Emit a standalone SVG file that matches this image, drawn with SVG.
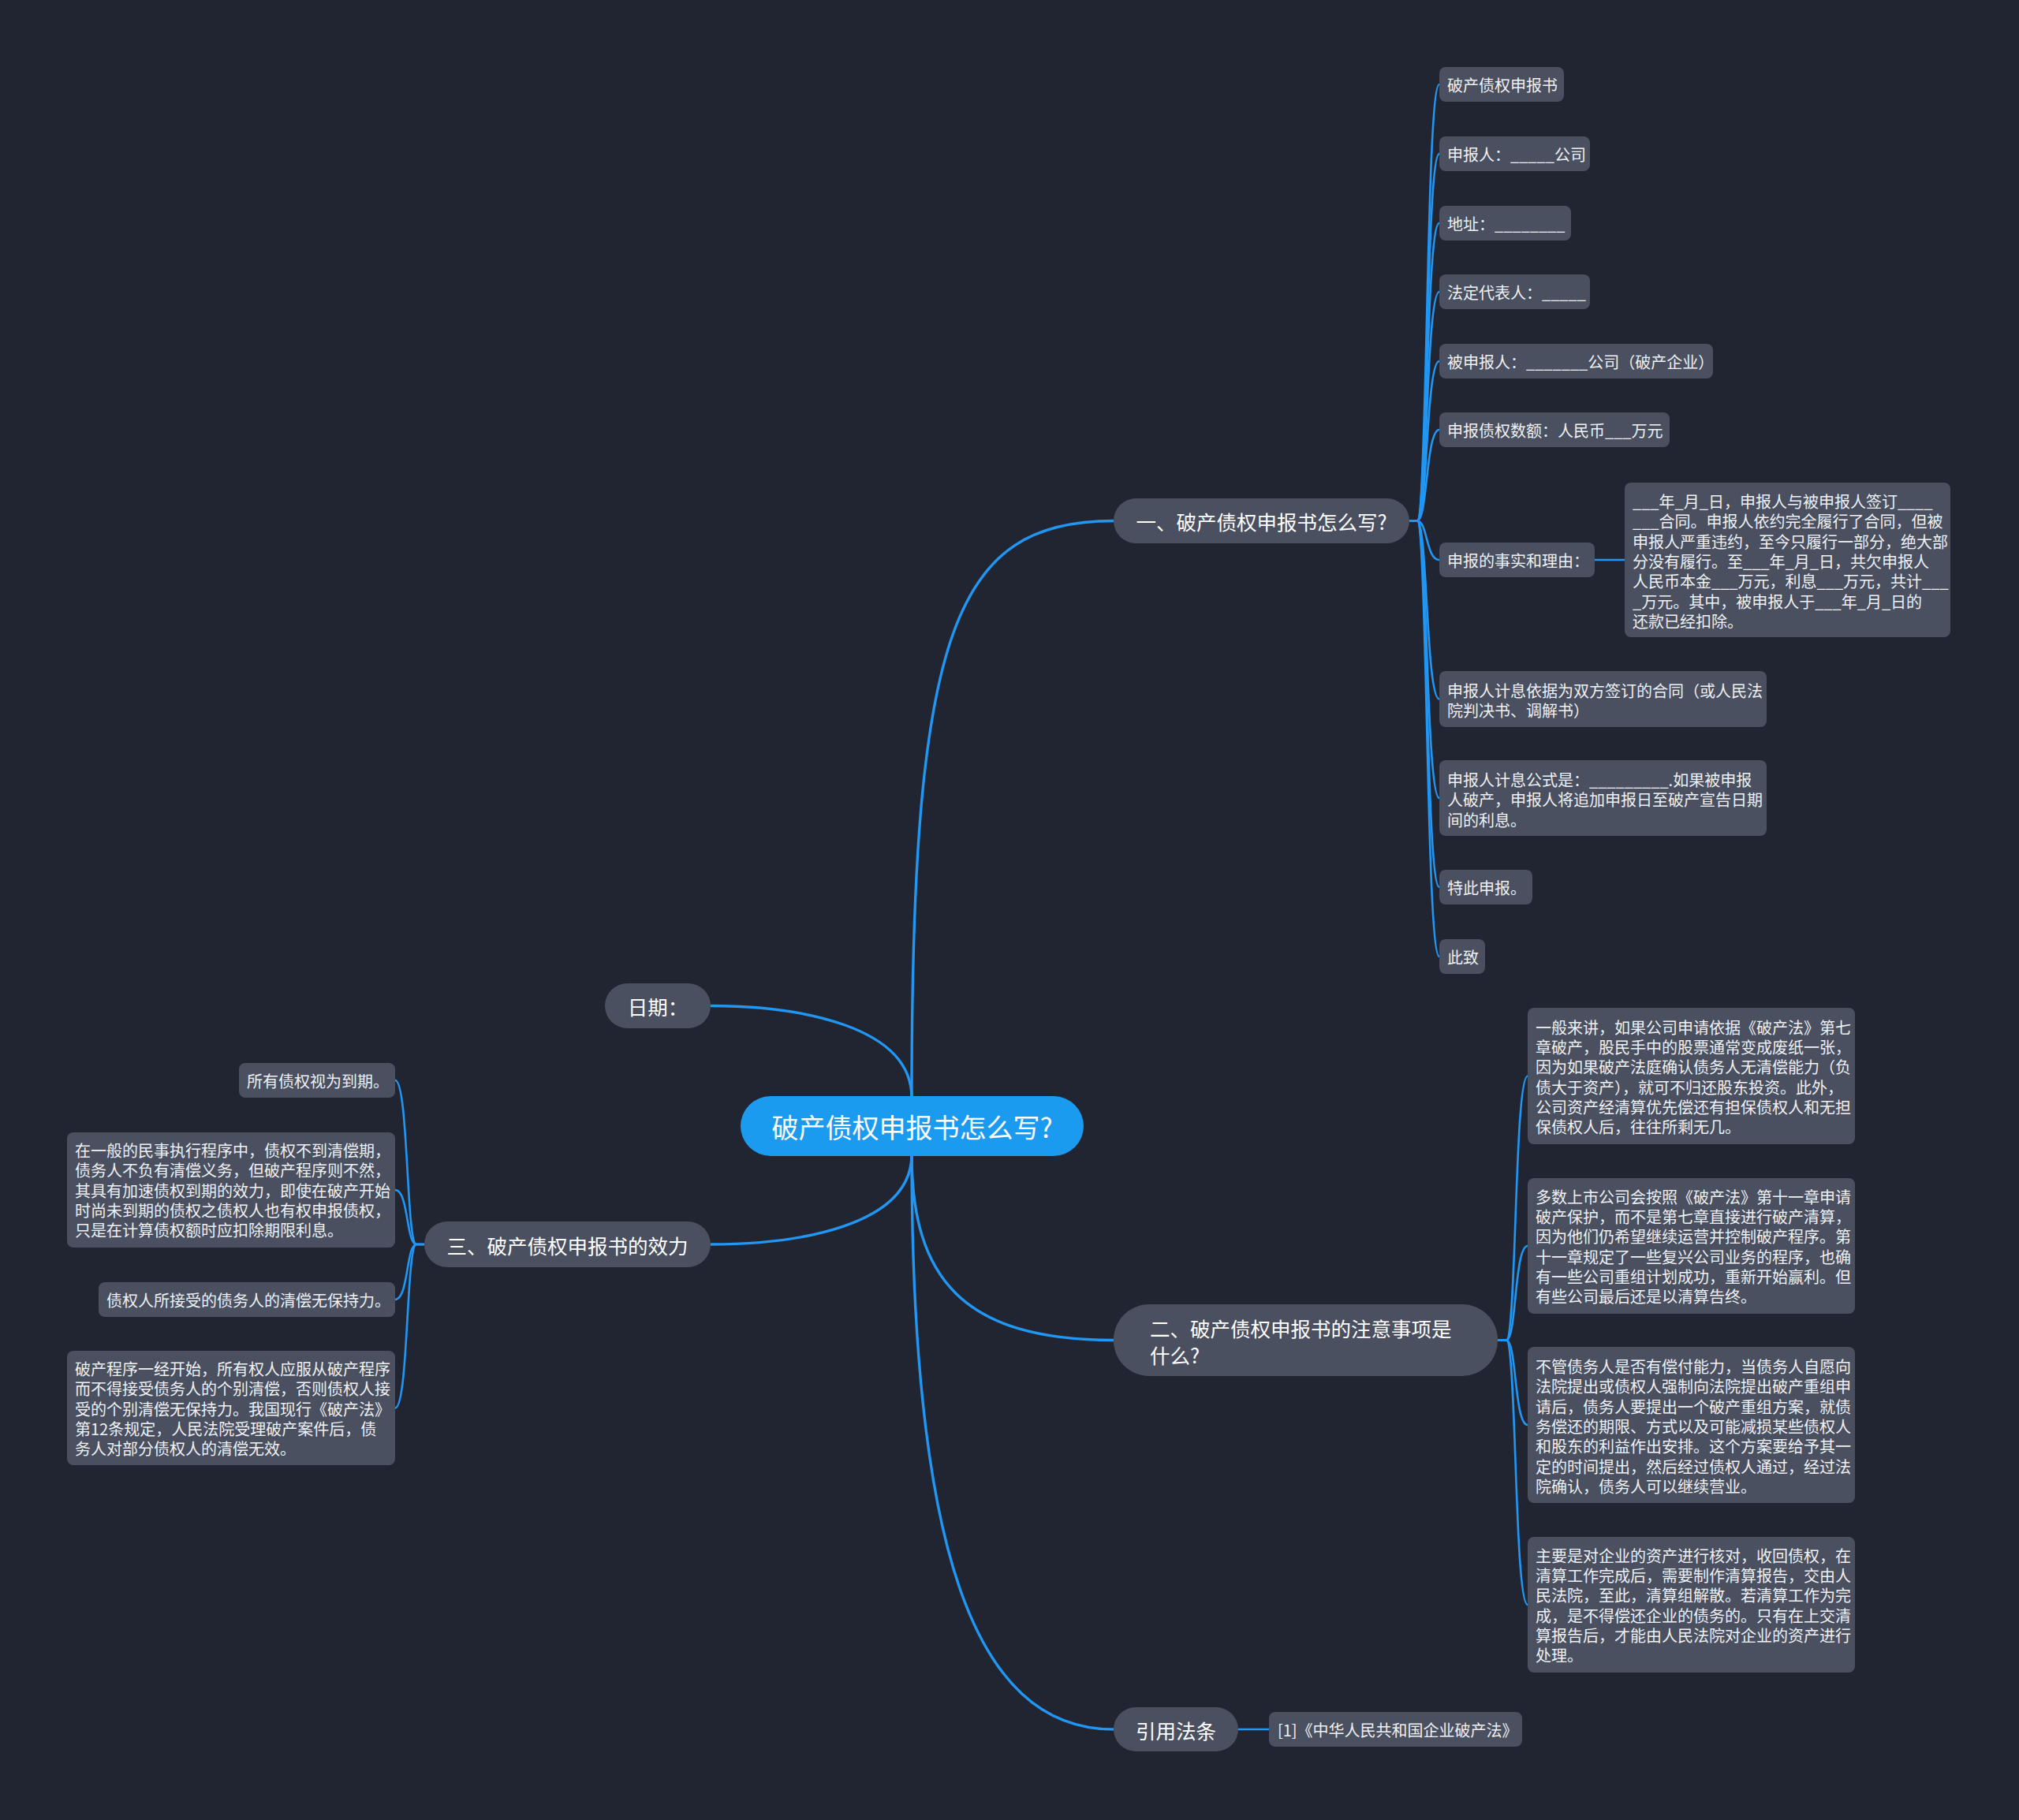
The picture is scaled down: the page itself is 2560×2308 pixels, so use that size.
<svg xmlns="http://www.w3.org/2000/svg" width="2560" height="2308" viewBox="0 0 2560 2308">
<style>
.bg{fill:#212531}
.nd{fill:#4a5060}
.rt{fill:#1b9bf0}
.ln{fill:none;stroke:#2196f3;stroke-width:2.6}
.lm{fill:none;stroke:#2196f3;stroke-width:3.4}
text{font-family:"Noto Sans CJK SC","Noto Sans",sans-serif;dominant-baseline:central;fill:#eef0f4}
.t20{font-size:20px}
.t25{font-size:25.5px;fill:#ffffff}
.t34{font-size:34px;fill:#ffffff}
.c{text-anchor:middle}
</style>
<rect class="bg" x="0" y="0" width="2560" height="2308"/>
<g id="connectors">
<path class="lm" d="M1156 1392 C1156 800 1210 660.5 1412 660.5"/>
<path class="lm" d="M1156 1392 C1156 1300 1010 1275.5 901 1275.5"/>
<path class="lm" d="M1156 1464 C1156 1555 1010 1578 901 1578"/>
<path class="lm" d="M1156 1464 C1156 1620 1220 1699.5 1412 1699.5"/>
<path class="lm" d="M1156 1464 C1156 1950 1230 2193 1412 2193"/>
<path class="ln" d="M1787 660.5 L1797 660.5 C1810 660.5 1808 107 1825 107"/>
<path class="ln" d="M1787 660.5 L1797 660.5 C1810 660.5 1808 195 1825 195"/>
<path class="ln" d="M1787 660.5 L1797 660.5 C1810 660.5 1808 283 1825 283"/>
<path class="ln" d="M1787 660.5 L1797 660.5 C1810 660.5 1808 370 1825 370"/>
<path class="ln" d="M1787 660.5 L1797 660.5 C1810 660.5 1808 458 1825 458"/>
<path class="ln" d="M1787 660.5 L1797 660.5 C1810 660.5 1808 545 1825 545"/>
<path class="ln" d="M1787 660.5 L1797 660.5 C1810 660.5 1808 710 1825 710"/>
<path class="ln" d="M1787 660.5 L1797 660.5 C1810 660.5 1808 886.5 1825 886.5"/>
<path class="ln" d="M1787 660.5 L1797 660.5 C1810 660.5 1808 1012 1825 1012"/>
<path class="ln" d="M1787 660.5 L1797 660.5 C1810 660.5 1808 1125 1825 1125"/>
<path class="ln" d="M1787 660.5 L1797 660.5 C1810 660.5 1808 1213 1825 1213"/>
<path class="ln" d="M2022 710 L2060 710"/>
<path class="ln" d="M1899 1699.5 L1910 1699.5 C1923 1699.5 1920 1364.5 1937 1364.5"/>
<path class="ln" d="M1899 1699.5 L1910 1699.5 C1923 1699.5 1920 1580 1937 1580"/>
<path class="ln" d="M1899 1699.5 L1910 1699.5 C1923 1699.5 1920 1807 1937 1807"/>
<path class="ln" d="M1899 1699.5 L1910 1699.5 C1923 1699.5 1920 2035 1937 2035"/>
<path class="ln" d="M538 1578 L528 1578 C515 1578 518 1370 501 1370"/>
<path class="ln" d="M538 1578 L528 1578 C515 1578 518 1509 501 1509"/>
<path class="ln" d="M538 1578 L528 1578 C515 1578 518 1648 501 1648"/>
<path class="ln" d="M538 1578 L528 1578 C515 1578 518 1785.5 501 1785.5"/>
<path class="ln" d="M1570 2193 L1609 2193"/>
</g>
<g id="root">
<rect class="rt" x="939" y="1390" width="435" height="76" rx="38"/>
<text class="t34 c" x="1156.5" y="1428">破产债权申报书怎么写?</text>
</g>
<g id="b1">
<rect class="nd" x="1412" y="632" width="375" height="57" rx="28.5"/>
<text class="t25 c" x="1599.5" y="660.5">一、破产债权申报书怎么写?</text>
</g>
<g id="b1-1"><rect class="nd" x="1825" y="85" width="158" height="44" rx="8"/><text class="t20" x="1835" y="107">破产债权申报书</text></g>
<g id="b1-2"><rect class="nd" x="1825" y="173" width="191" height="44" rx="8"/><text class="t20" x="1835" y="195">申报人：_____公司</text></g>
<g id="b1-3"><rect class="nd" x="1825" y="261" width="167" height="44" rx="8"/><text class="t20" x="1835" y="283">地址：________</text></g>
<g id="b1-4"><rect class="nd" x="1825" y="348" width="191" height="44" rx="8"/><text class="t20" x="1835" y="370">法定代表人：_____</text></g>
<g id="b1-5"><rect class="nd" x="1825" y="436" width="347" height="44" rx="8"/><text class="t20" x="1835" y="458">被申报人：_______公司（破产企业）</text></g>
<g id="b1-6"><rect class="nd" x="1825" y="523" width="292" height="44" rx="8"/><text class="t20" x="1835" y="545">申报债权数额：人民币___万元</text></g>
<g id="b1-7"><rect class="nd" x="1825" y="688" width="197" height="44" rx="8"/><text class="t20" x="1835" y="710">申报的事实和理由：</text></g>
<g id="b1-7-1"><rect class="nd" x="2060" y="612" width="413" height="196" rx="8"/>
<text class="t20" x="2070"><tspan x="2070" y="635">___年_月_日，申报人与被申报人签订____</tspan><tspan x="2070" y="660.3">___合同。申报人依约完全履行了合同，但被</tspan><tspan x="2070" y="685.6">申报人严重违约，至今只履行一部分，绝大部</tspan><tspan x="2070" y="711">分没有履行。至___年_月_日，共欠申报人</tspan><tspan x="2070" y="736.2">人民币本金___万元，利息___万元，共计___</tspan><tspan x="2070" y="761.5">_万元。其中，被申报人于___年_月_日的</tspan><tspan x="2070" y="787">还款已经扣除。</tspan></text></g>
<g id="b1-8"><rect class="nd" x="1825" y="851" width="415" height="71" rx="8"/>
<text class="t20"><tspan x="1835" y="875">申报人计息依据为双方签订的合同（或人民法</tspan><tspan x="1835" y="900">院判决书、调解书）</tspan></text></g>
<g id="b1-9"><rect class="nd" x="1825" y="964" width="415" height="96" rx="8"/>
<text class="t20"><tspan x="1835" y="988">申报人计息公式是：_________.如果被申报</tspan><tspan x="1835" y="1013">人破产，申报人将追加申报日至破产宣告日期</tspan><tspan x="1835" y="1038.5">间的利息。</tspan></text></g>
<g id="b1-10"><rect class="nd" x="1825" y="1103" width="118" height="44" rx="8"/><text class="t20" x="1835" y="1125">特此申报。</text></g>
<g id="b1-11"><rect class="nd" x="1825" y="1191" width="58" height="44" rx="8"/><text class="t20" x="1835" y="1213">此致</text></g>
<g id="date">
<rect class="nd" x="767" y="1247" width="134" height="57" rx="28.5"/>
<text class="t25 c" x="834" y="1275.5">日期：</text>
</g>
<g id="b3">
<rect class="nd" x="538" y="1549" width="363" height="58" rx="29"/>
<text class="t25 c" x="719.5" y="1578">三、破产债权申报书的效力</text>
</g>
<g id="b3-1"><rect class="nd" x="303" y="1348" width="198" height="44" rx="8"/><text class="t20" x="313" y="1370">所有债权视为到期。</text></g>
<g id="b3-2"><rect class="nd" x="85" y="1436" width="416" height="146" rx="8"/>
<text class="t20"><tspan x="95" y="1458">在一般的民事执行程序中，债权不到清偿期，</tspan><tspan x="95" y="1483.3">债务人不负有清偿义务，但破产程序则不然，</tspan><tspan x="95" y="1508.6">其具有加速债权到期的效力，即使在破产开始</tspan><tspan x="95" y="1534">时尚未到期的债权之债权人也有权申报债权，</tspan><tspan x="95" y="1559.2">只是在计算债权额时应扣除期限利息。</tspan></text></g>
<g id="b3-3"><rect class="nd" x="125" y="1626" width="376" height="44" rx="8"/><text class="t20" x="135" y="1648">债权人所接受的债务人的清偿无保持力。</text></g>
<g id="b3-4"><rect class="nd" x="85" y="1713" width="416" height="145" rx="8"/>
<text class="t20"><tspan x="95" y="1735">破产程序一经开始，所有权人应服从破产程序</tspan><tspan x="95" y="1760.3">而不得接受债务人的个别清偿，否则债权人接</tspan><tspan x="95" y="1785.6">受的个别清偿无保持力。我国现行《破产法》</tspan><tspan x="95" y="1811">第12条规定，人民法院受理破产案件后，债</tspan><tspan x="95" y="1836.2">务人对部分债权人的清偿无效。</tspan></text></g>
<g id="b2">
<rect class="nd" x="1412" y="1654" width="487" height="91" rx="45"/>
<text class="t25"><tspan x="1458" y="1683">二、破产债权申报书的注意事项是</tspan><tspan x="1458" y="1717">什么?</tspan></text>
</g>
<g id="b2-1"><rect class="nd" x="1937" y="1278" width="415" height="173" rx="8"/>
<text class="t20"><tspan x="1947" y="1302">一般来讲，如果公司申请依据《破产法》第七</tspan><tspan x="1947" y="1327.2">章破产，股民手中的股票通常变成废纸一张，</tspan><tspan x="1947" y="1352.4">因为如果破产法庭确认债务人无清偿能力（负</tspan><tspan x="1947" y="1377.6">债大于资产），就可不归还股东投资。此外，</tspan><tspan x="1947" y="1402.8">公司资产经清算优先偿还有担保债权人和无担</tspan><tspan x="1947" y="1428">保债权人后，往往所剩无几。</tspan></text></g>
<g id="b2-2"><rect class="nd" x="1937" y="1494" width="415" height="172" rx="8"/>
<text class="t20"><tspan x="1947" y="1517">多数上市公司会按照《破产法》第十一章申请</tspan><tspan x="1947" y="1542.2">破产保护，而不是第七章直接进行破产清算，</tspan><tspan x="1947" y="1567.4">因为他们仍希望继续运营并控制破产程序。第</tspan><tspan x="1947" y="1592.6">十一章规定了一些复兴公司业务的程序，也确</tspan><tspan x="1947" y="1617.8">有一些公司重组计划成功，重新开始赢利。但</tspan><tspan x="1947" y="1643">有些公司最后还是以清算告终。</tspan></text></g>
<g id="b2-3"><rect class="nd" x="1937" y="1708" width="415" height="198" rx="8"/>
<text class="t20"><tspan x="1947" y="1732">不管债务人是否有偿付能力，当债务人自愿向</tspan><tspan x="1947" y="1757.3">法院提出或债权人强制向法院提出破产重组申</tspan><tspan x="1947" y="1782.6">请后，债务人要提出一个破产重组方案，就债</tspan><tspan x="1947" y="1808">务偿还的期限、方式以及可能减损某些债权人</tspan><tspan x="1947" y="1833.2">和股东的利益作出安排。这个方案要给予其一</tspan><tspan x="1947" y="1858.5">定的时间提出，然后经过债权人通过，经过法</tspan><tspan x="1947" y="1884">院确认，债务人可以继续营业。</tspan></text></g>
<g id="b2-4"><rect class="nd" x="1937" y="1949" width="415" height="172" rx="8"/>
<text class="t20"><tspan x="1947" y="1972">主要是对企业的资产进行核对，收回债权，在</tspan><tspan x="1947" y="1997.2">清算工作完成后，需要制作清算报告，交由人</tspan><tspan x="1947" y="2022.4">民法院，至此，清算组解散。若清算工作为完</tspan><tspan x="1947" y="2047.6">成，是不得偿还企业的债务的。只有在上交清</tspan><tspan x="1947" y="2072.8">算报告后，才能由人民法院对企业的资产进行</tspan><tspan x="1947" y="2098">处理。</tspan></text></g>
<g id="b4">
<rect class="nd" x="1412" y="2165" width="158" height="56" rx="28"/>
<text class="t25 c" x="1491" y="2193">引用法条</text>
</g>
<g id="b4-1"><rect class="nd" x="1609" y="2171" width="321" height="44" rx="8"/><text class="t20" x="1620" y="2193">[1]《中华人民共和国企业破产法》</text></g>
</svg>
